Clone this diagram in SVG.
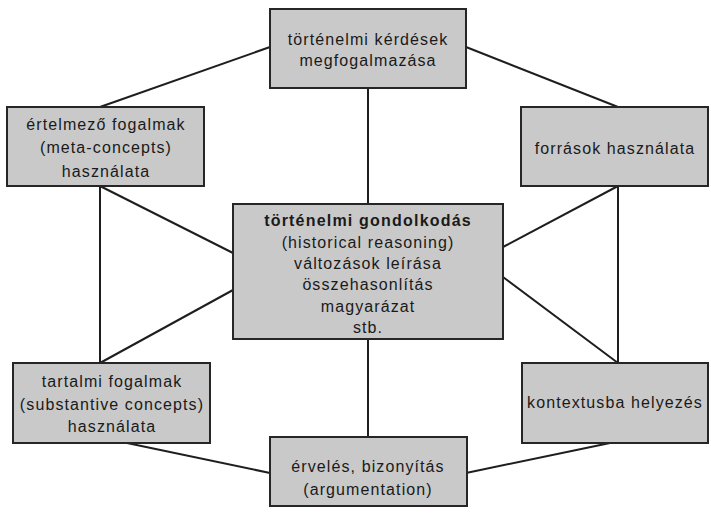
<svg xmlns="http://www.w3.org/2000/svg" width="711" height="515" viewBox="0 0 711 515">
<style>
.box{fill:#c9c9c9;stroke:#262626;stroke-width:2}
.ln{stroke:#1e1e1e;stroke-width:2;fill:none}
text{font-family:"Liberation Sans",Arial,sans-serif;font-size:16px;fill:#1a1a1a;text-anchor:middle;letter-spacing:1.1px}
.b{font-weight:bold;letter-spacing:1.2px}
</style>
<rect width="711" height="515" fill="#ffffff"/>
<g id="connectors">
<line class="ln" x1="270" y1="47" x2="100" y2="107"/>
<line class="ln" x1="466" y1="47" x2="618" y2="107"/>
<line class="ln" x1="368" y1="88" x2="368" y2="204"/>
<line class="ln" x1="100" y1="186" x2="100" y2="363"/>
<line class="ln" x1="100" y1="186" x2="233" y2="253"/>
<line class="ln" x1="100" y1="363" x2="233" y2="290"/>
<line class="ln" x1="618" y1="186" x2="618" y2="363"/>
<line class="ln" x1="618" y1="186" x2="503" y2="247"/>
<line class="ln" x1="618" y1="363" x2="503" y2="277"/>
<line class="ln" x1="368" y1="339" x2="368" y2="437"/>
<line class="ln" x1="127" y1="443" x2="270" y2="473"/>
<line class="ln" x1="466" y1="473" x2="610" y2="443"/>
</g>
<g id="kerdesek">
<rect class="box" x="270" y="9" width="196" height="79"/>
<text x="368" y="45">történelmi kérdések</text>
<text x="368" y="66">megfogalmazása</text>
</g>
<g id="ertelmezo">
<rect class="box" x="7" y="107" width="197" height="79"/>
<text x="106" y="130">értelmező fogalmak</text>
<text x="106" y="153">(meta-concepts)</text>
<text x="106" y="177">használata</text>
</g>
<g id="forrasok">
<rect class="box" x="521" y="107" width="187" height="79"/>
<text x="615" y="154">források használata</text>
</g>
<g id="gondolkodas">
<rect class="box" x="233" y="204" width="270" height="135"/>
<text class="b" x="368" y="226">történelmi gondolkodás</text>
<text x="368" y="248">(historical reasoning)</text>
<text x="368" y="269">változások leírása</text>
<text x="368" y="290">összehasonlítás</text>
<text x="368" y="312">magyarázat</text>
<text x="368" y="333">stb.</text>
</g>
<g id="tartalmi">
<rect class="box" x="13" y="363" width="197" height="80"/>
<text x="112" y="387">tartalmi fogalmak</text>
<text x="112" y="410">(substantive concepts)</text>
<text x="112" y="432">használata</text>
</g>
<g id="kontextus">
<rect class="box" x="522" y="363" width="186" height="80"/>
<text x="615" y="408">kontextusba helyezés</text>
</g>
<g id="erveles">
<rect class="box" x="270" y="437" width="197" height="69"/>
<text x="368" y="472">érvelés, bizonyítás</text>
<text x="368" y="495">(argumentation)</text>
</g>
</svg>
